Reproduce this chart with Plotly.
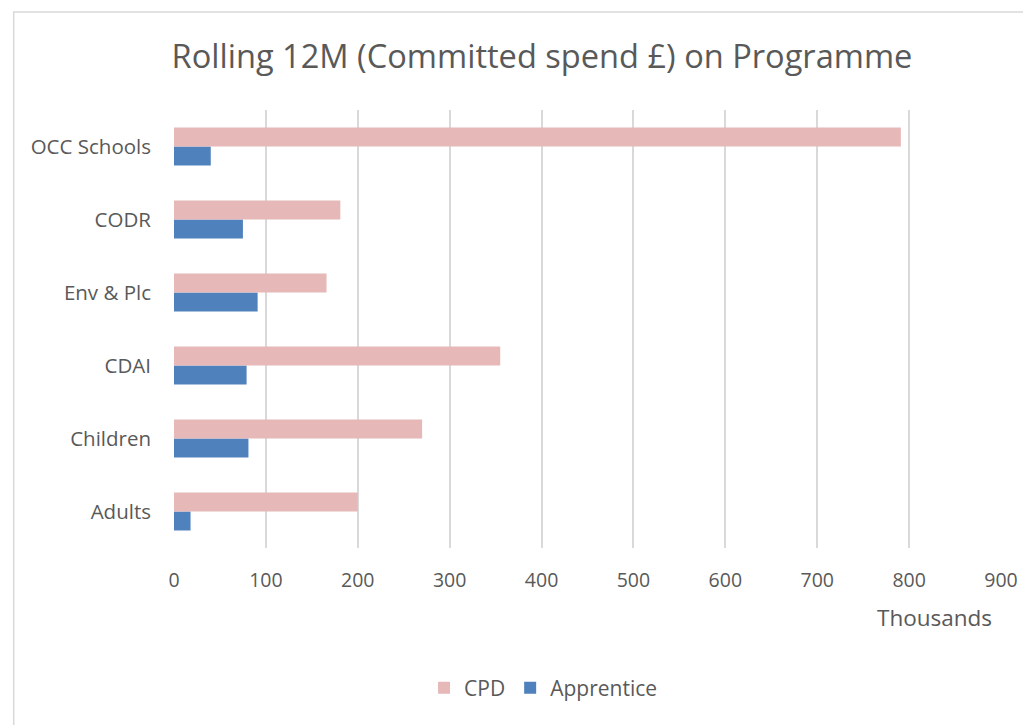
import plotly.graph_objects as go

# Programme areas, listed bottom to top
categories = ["Adults", "Children", "CDAI", "Env & Plc", "CODR", "OCC Schools"]
cpd = [200, 270, 355, 166, 181, 791]          # £ thousands
apprentice = [18, 81, 79, 91, 75, 40]         # £ thousands
x_ticks = [0, 100, 200, 300, 400, 500, 600, 700, 800, 900]

FONT = "Open Sans"
GREY = "#595959"

fig = go.Figure()
fig.add_trace(go.Bar(
    y=categories, x=apprentice, name="Apprentice", orientation="h",
    marker=dict(color="#4F81BD", line=dict(width=0)), legendrank=2,
))
fig.add_trace(go.Bar(
    y=categories, x=cpd, name="CPD", orientation="h",
    marker=dict(color="#E6B8B7", line=dict(width=0)), legendrank=1,
))

L, R, T, B = 173.5, 21.5, 110, 177
W, H = 1023, 725
pw, ph = W - L - R, H - T - B

fig.update_layout(
    width=W, height=H,
    margin=dict(l=L, r=R, t=T, b=B, autoexpand=False),
    paper_bgcolor="white", plot_bgcolor="white",
    barmode="group", bargap=0.48, bargroupgap=0,
    font=dict(family=FONT, color=GREY, size=18),
    title=dict(
        text="Rolling 12M (Committed spend £) on Programme",
        x=542 / W, xanchor="center", y=1 - 57 / H, yanchor="middle",
        font=dict(size=32.6, color=GREY, family=FONT),
    ),
    xaxis=dict(
        range=[0, 900], tickvals=x_ticks, ticktext=[str(v) for v in x_ticks],
        showgrid=True, gridcolor="#D9D9D9", gridwidth=1.5,
        zeroline=False, showline=False, ticks="", ticklabelstandoff=18,
        tickfont=dict(size=19.5, color=GREY), automargin=False,
        fixedrange=True,
    ),
    yaxis=dict(
        categoryorder="array", categoryarray=categories,
        showgrid=False, zeroline=False, showline=False, ticks="",
        ticklabelstandoff=22, automargin=False,
        tickfont=dict(size=20.5, color=GREY),
    ),
    legend=dict(
        orientation="h", x=(543 - L) / pw, xanchor="center",
        y=-(688 - (T + ph)) / ph, yanchor="middle",
        font=dict(size=21, color=GREY), traceorder="normal",
        itemwidth=30,
    ),
    annotations=[dict(
        text="Thousands", xref="paper", yref="paper",
        x=(994 - L) / pw, xanchor="right",
        y=-(617 - (T + ph)) / ph, yanchor="middle",
        showarrow=False, font=dict(size=22.5, color=GREY),
    )],
    shapes=[dict(
        type="rect", xref="paper", yref="paper",
        x0=(13 - L) / pw, x1=(W + 10 - L) / pw,
        y0=-(H + 10 - (T + ph)) / ph, y1=1 + (T - 12) / ph,
        line=dict(color="#D9D9D9", width=1.5), fillcolor="rgba(0,0,0,0)",
        layer="below",
    )],
)

fig.write_html("out.html")
